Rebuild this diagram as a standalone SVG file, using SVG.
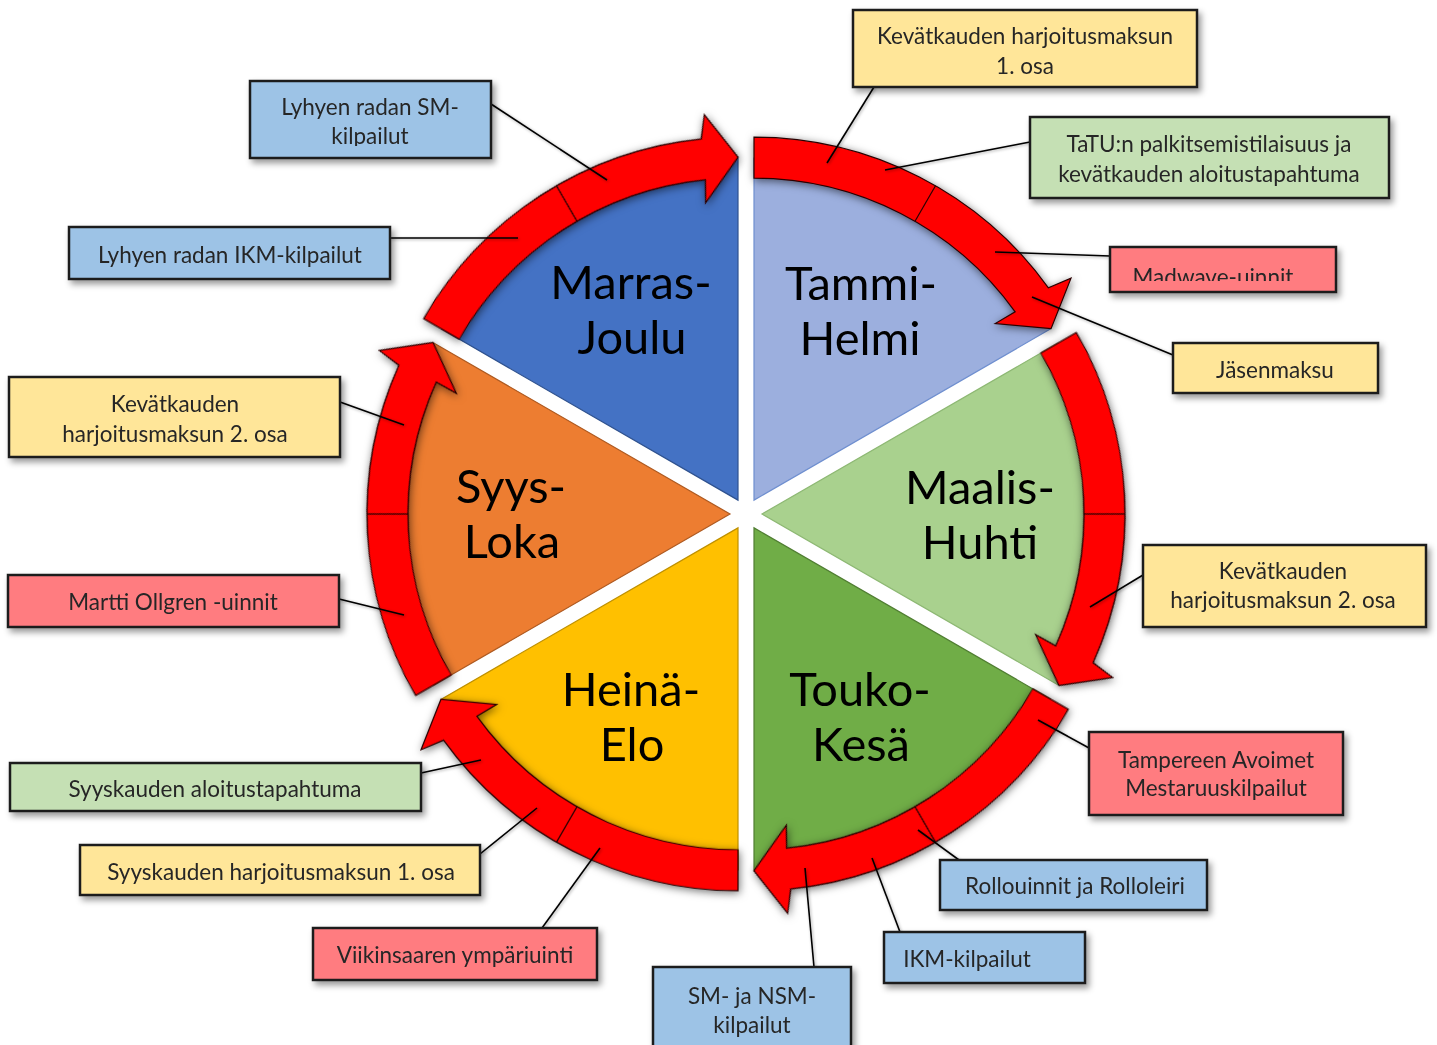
<svg xmlns="http://www.w3.org/2000/svg" width="1437" height="1045" viewBox="0 0 1437 1045">
<defs>
<filter id="ringsh" x="-20%" y="-20%" width="140%" height="140%">
<feDropShadow dx="1" dy="2" stdDeviation="4" flood-color="#000" flood-opacity="0.55"/>
</filter>
<filter id="boxsh" x="-10%" y="-20%" width="125%" height="150%">
<feDropShadow dx="3" dy="4" stdDeviation="3" flood-color="#000" flood-opacity="0.4"/>
</filter>
<filter id="linesh" x="-10%" y="-10%" width="120%" height="120%">
<feDropShadow dx="1" dy="1" stdDeviation="1.5" flood-color="#000" flood-opacity="0.35"/>
</filter>
<path id="wedge" d="M0,0 L0,-342 A342,342 0 0 1 296.18,-171 Z"/>
<path id="ring" d="M0,-363 A363,363 0 0 1 294.41,-212.34 L317.01,-221.97 L297.05,-171.5 L241.28,-176.59 L261.16,-188.36 A322,322 0 0 0 0,-322 Z"/>
<path id="divider" d="M161,-278.86 L181.5,-314.37"/>
<clipPath id="clipMad"><rect x="1100" y="240" width="250" height="41"/></clipPath>
<clipPath id="clipSM"><rect x="245" y="75" width="250" height="71"/></clipPath>
</defs>
<style>
.slice{stroke-width:1.2}
.ringp{fill:#FF0000;stroke:#2a0000;stroke-width:1.2}
.div{stroke:#2a0000;stroke-width:1.2;fill:none}
.lbl{font-family:Lato,"Open Sans","Liberation Sans",sans-serif;font-size:47px;fill:#000;text-anchor:middle}
.box{stroke:#1e1e1e;stroke-width:2.5}
.bt{font-family:Lato,"Open Sans","Liberation Sans",sans-serif;font-size:22.5px;fill:#262626;text-anchor:middle}
.blue{fill:#9DC3E6}.yel{fill:#FFE699}.grn{fill:#C5E0B4}.red{fill:#FF7C80}
.con{stroke:#000;stroke-width:1.6;fill:none}
</style>
<rect width="1437" height="1045" fill="#fff"/>

<g id="slices">
<g id="slice-tammi"><use href="#wedge" class="slice" fill="#9CAFDE" stroke="#6F8FCF" transform="translate(754,500.14)"/></g>
<g id="slice-maalis"><use href="#wedge" class="slice" fill="#A9D18E" stroke="#8DB873" transform="translate(762,514) rotate(60)"/></g>
<g id="slice-touko"><use href="#wedge" class="slice" fill="#70AD47" stroke="#507E32" transform="translate(754,527.86) rotate(120)"/></g>
<g id="slice-heina"><use href="#wedge" class="slice" fill="#FFC000" stroke="#BF9000" transform="translate(738,527.86) rotate(180)"/></g>
<g id="slice-syys"><use href="#wedge" class="slice" fill="#ED7D31" stroke="#AE5A21" transform="translate(730,514) rotate(240)"/></g>
<g id="slice-marras"><use href="#wedge" class="slice" fill="#4472C4" stroke="#2F528F" transform="translate(738,500.14) rotate(300)"/></g>
</g>

<g id="rings" filter="url(#ringsh)">
<g transform="translate(754,500.14)"><use href="#ring" class="ringp"/><use href="#divider" class="div"/></g>
<g transform="translate(762,514) rotate(60)"><use href="#ring" class="ringp"/><use href="#divider" class="div"/></g>
<g transform="translate(754,527.86) rotate(120)"><use href="#ring" class="ringp"/><use href="#divider" class="div"/></g>
<g transform="translate(738,527.86) rotate(180)"><use href="#ring" class="ringp"/><use href="#divider" class="div"/></g>
<g transform="translate(730,514) rotate(240)"><use href="#ring" class="ringp"/><use href="#divider" class="div"/></g>
<g transform="translate(738,500.14) rotate(300)"><use href="#ring" class="ringp"/><use href="#divider" class="div"/></g>
</g>

<g id="slice-labels">
<text class="lbl" x="631" y="299">Marras-</text><text class="lbl" x="632" y="354">Joulu</text>
<text class="lbl" x="861" y="300">Tammi-</text><text class="lbl" x="860" y="355">Helmi</text>
<text class="lbl" x="980" y="504">Maalis-</text><text class="lbl" x="980" y="559">Huhti</text>
<text class="lbl" x="511" y="503">Syys-</text><text class="lbl" x="512" y="558">Loka</text>
<text class="lbl" x="631" y="706">Heinä-</text><text class="lbl" x="632" y="761">Elo</text>
<text class="lbl" x="860" y="706">Touko-</text><text class="lbl" x="861" y="761">Kesä</text>
</g>

<g id="connectors" filter="url(#linesh)">
<line class="con" x1="491" y1="104" x2="607" y2="180"/>
<line class="con" x1="390" y1="238" x2="518" y2="238"/>
<line class="con" x1="874" y1="87" x2="827" y2="163"/>
<line class="con" x1="1030" y1="142" x2="885" y2="170"/>
<line class="con" x1="1110" y1="256" x2="995" y2="252"/>
<line class="con" x1="1173" y1="355" x2="1032" y2="297"/>
<line class="con" x1="340" y1="402" x2="404" y2="425"/>
<line class="con" x1="339" y1="599" x2="404" y2="615"/>
<line class="con" x1="1143" y1="575" x2="1090" y2="607"/>
<line class="con" x1="1089" y1="748" x2="1038" y2="720"/>
<line class="con" x1="959" y1="860" x2="918" y2="830"/>
<line class="con" x1="900" y1="932" x2="872" y2="858"/>
<line class="con" x1="814" y1="967" x2="805" y2="868"/>
<line class="con" x1="542" y1="928" x2="600" y2="848"/>
<line class="con" x1="480" y1="854" x2="537" y2="808"/>
<line class="con" x1="421" y1="773" x2="481" y2="760"/>
</g>

<g id="boxes">
<g id="b-sm-lyhyt"><rect class="box blue" x="250" y="81" width="241" height="77" filter="url(#boxsh)"/><g clip-path="url(#clipSM)"><text class="bt" x="370" y="115">Lyhyen radan SM-</text><text class="bt" x="370" y="144">kilpailut</text></g></g>
<g id="b-ikm-lyhyt"><rect class="box blue" x="69" y="227" width="321" height="52" filter="url(#boxsh)"/><text class="bt" x="230" y="263">Lyhyen radan IKM-kilpailut</text></g>
<g id="b-kevat1"><rect class="box yel" x="853" y="10" width="344" height="77" filter="url(#boxsh)"/><text class="bt" x="1025" y="44">Kevätkauden harjoitusmaksun</text><text class="bt" x="1025" y="74">1. osa</text></g>
<g id="b-tatu"><rect class="box grn" x="1030" y="117" width="359" height="81" filter="url(#boxsh)"/><text class="bt" x="1209" y="152">TaTU:n palkitsemistilaisuus ja</text><text class="bt" x="1209" y="182">kevätkauden aloitustapahtuma</text></g>
<g id="b-madwave"><rect class="box red" x="1110" y="247" width="226" height="45" filter="url(#boxsh)"/><g clip-path="url(#clipMad)"><text class="bt" x="1213" y="285">Madwave-uinnit</text></g></g>
<g id="b-jasen"><rect class="box yel" x="1173" y="343" width="205" height="50" filter="url(#boxsh)"/><text class="bt" x="1275" y="378">Jäsenmaksu</text></g>
<g id="b-kevat2-left"><rect class="box yel" x="9" y="377" width="331" height="80" filter="url(#boxsh)"/><text class="bt" x="175" y="412">Kevätkauden</text><text class="bt" x="175" y="442">harjoitusmaksun 2. osa</text></g>
<g id="b-martti"><rect class="box red" x="8" y="575" width="331" height="52" filter="url(#boxsh)"/><text class="bt" x="173" y="610">Martti Ollgren -uinnit</text></g>
<g id="b-kevat2-right"><rect class="box yel" x="1143" y="545" width="283" height="82" filter="url(#boxsh)"/><text class="bt" x="1283" y="579">Kevätkauden</text><text class="bt" x="1283" y="608">harjoitusmaksun 2. osa</text></g>
<g id="b-tampere"><rect class="box red" x="1089" y="732" width="254" height="83" filter="url(#boxsh)"/><text class="bt" x="1216" y="768">Tampereen Avoimet</text><text class="bt" x="1216" y="796">Mestaruuskilpailut</text></g>
<g id="b-rollo"><rect class="box blue" x="940" y="860" width="267" height="50" filter="url(#boxsh)"/><text class="bt" x="1075" y="894">Rollouinnit ja Rolloleiri</text></g>
<g id="b-ikm"><rect class="box blue" x="884" y="932" width="201" height="51" filter="url(#boxsh)"/><text class="bt" x="967" y="967">IKM-kilpailut</text></g>
<g id="b-smnsm"><rect class="box blue" x="653" y="967" width="198" height="90" filter="url(#boxsh)"/><text class="bt" x="752" y="1004">SM- ja NSM-</text><text class="bt" x="752" y="1033">kilpailut</text></g>
<g id="b-viikinsaari"><rect class="box red" x="313" y="928" width="284" height="52" filter="url(#boxsh)"/><text class="bt" x="455" y="963">Viikinsaaren ympäriuinti</text></g>
<g id="b-syys1"><rect class="box yel" x="80" y="845" width="400" height="50" filter="url(#boxsh)"/><text class="bt" x="281" y="880">Syyskauden harjoitusmaksun 1. osa</text></g>
<g id="b-syysaloitus"><rect class="box grn" x="10" y="763" width="411" height="48" filter="url(#boxsh)"/><text class="bt" x="215" y="797">Syyskauden aloitustapahtuma</text></g>
</g>
</svg>
